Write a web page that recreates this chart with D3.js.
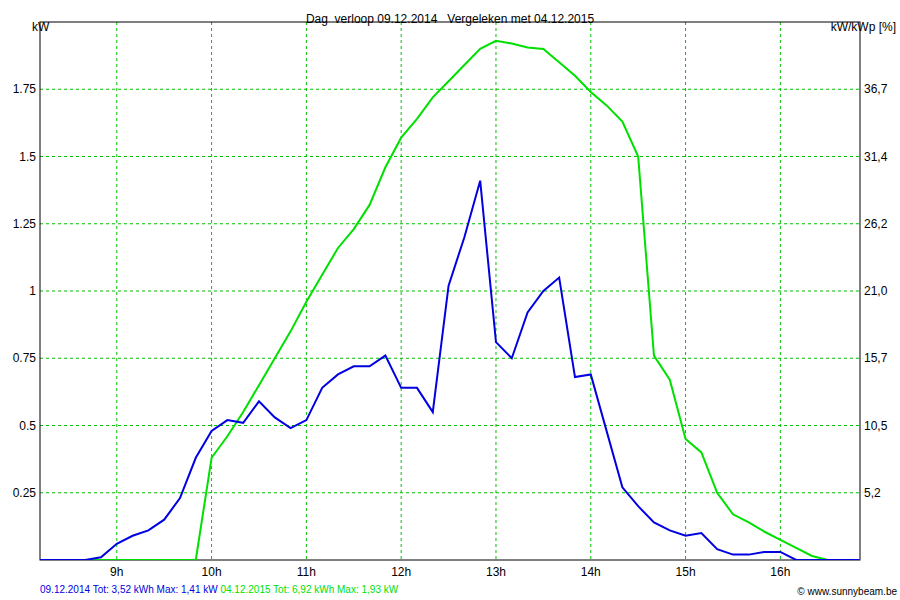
<!DOCTYPE html><html><head><meta charset="utf-8">
<script src="https://cdn.jsdelivr.net/npm/d3@7"></script>
<style>body{margin:0;background:#fff}text{font-family:"Liberation Sans",Arial,sans-serif}</style></head><body>
<svg id="c" width="900" height="600"></svg>
<script>
const startMin = 8*60+10, stepMin = 10;
const blue = [0,0,0,0,0.01,0.06,0.09,0.11,0.15,0.23,0.38,0.48,0.52,0.51,0.59,0.53,0.49,0.52,0.64,0.69,0.72,0.72,0.76,0.64,0.64,0.55,1.02,1.20,1.41,0.81,0.75,0.92,1.00,1.05,0.68,0.69,0.48,0.27,0.20,0.14,0.11,0.09,0.10,0.04,0.02,0.02,0.03,0.03,0,0,0,0,0];
const green = [0,0,0,0,0,0,0,0,0,0,0,0.38,0.46,0.55,0.65,0.75,0.85,0.96,1.06,1.16,1.23,1.32,1.46,1.57,1.64,1.72,1.78,1.84,1.90,1.93,1.92,1.905,1.90,1.85,1.80,1.74,1.69,1.63,1.50,0.76,0.67,0.45,0.40,0.25,0.17,0.14,0.105,0.075,0.045,0.015,0,0,0];
const hourTicks = [9,10,11,12,13,14,15,16];
const kwTicks = [0.25,0.5,0.75,1,1.25,1.5,1.75];
const kwTickLabels = ["0.25","0.5","0.75","1","1.25","1.5","1.75"];
const pctTickLabels = ["5,2","10,5","15,7","21,0","26,2","31,4","36,7"];

const svg = d3.select("#c");
const L=40,R=860,T=22,B=560;
const x = d3.scaleLinear().domain([8.19,16.84]).range([L,R]);
const y = d3.scaleLinear().domain([0,2]).range([B,T]);
const t = i => (startMin+i*stepMin)/60;

const g = svg.append("g");
hourTicks.forEach(h=>g.append("line").attr("x1",x(h)).attr("x2",x(h)).attr("y1",T).attr("y2",B).attr("stroke","#00c000").attr("stroke-dasharray","3,3"));
kwTicks.forEach(v=>g.append("line").attr("x1",L).attr("x2",R).attr("y1",y(v)).attr("y2",y(v)).attr("stroke","#00c000").attr("stroke-dasharray","3,3"));
svg.append("rect").attr("x",L).attr("y",T).attr("width",R-L).attr("height",B-T).attr("fill","none").attr("stroke","#000");

const clip = svg.append("clipPath").attr("id","pc").append("rect").attr("x",L).attr("y",T-5).attr("width",R-L).attr("height",B-T+5);
const line = d3.line().x((d,i)=>x(t(i))).y(d=>y(d));
svg.append("path").datum(green).attr("d",line).attr("clip-path","url(#pc)").attr("fill","none").attr("stroke","#00e000").attr("stroke-width",2);
svg.append("path").datum(blue).attr("d",line).attr("clip-path","url(#pc)").attr("fill","none").attr("stroke","#0000e0").attr("stroke-width",2);

const fs=12;
hourTicks.forEach(h=>svg.append("text").attr("x",x(h)).attr("y",B+16).attr("text-anchor","middle").attr("font-size",fs).text(h+"h"));
kwTicks.forEach((v,i)=>{
  svg.append("text").attr("x",L-4).attr("y",y(v)+4).attr("text-anchor","end").attr("font-size",fs).text(kwTickLabels[i]);
  svg.append("text").attr("x",R+4).attr("y",y(v)+4).attr("font-size",fs).text(pctTickLabels[i]);
});
svg.append("text").attr("x",32).attr("y",31).attr("font-size",fs).text("kW");
svg.append("text").attr("x",896).attr("y",31).attr("text-anchor","end").attr("font-size",fs).text("kW/kWp [%]");
svg.append("text").attr("x",450).attr("y",23).attr("text-anchor","middle").attr("font-size",fs).attr("xml:space","preserve").text("Dag  verloop 09.12.2014   Vergeleken met 04.12.2015");
const leg = svg.append("text").attr("x",40).attr("y",593).attr("font-size",10);
leg.append("tspan").attr("fill","#0000e0").text("09.12.2014 Tot: 3,52 kWh Max: 1,41 kW ");
leg.append("tspan").attr("fill","#00e000").text("04.12.2015 Tot: 6,92 kWh Max: 1,93 kW");
svg.append("text").attr("x",897).attr("y",595).attr("text-anchor","end").attr("font-size",10).text("© www.sunnybeam.be");
</script></body></html>
